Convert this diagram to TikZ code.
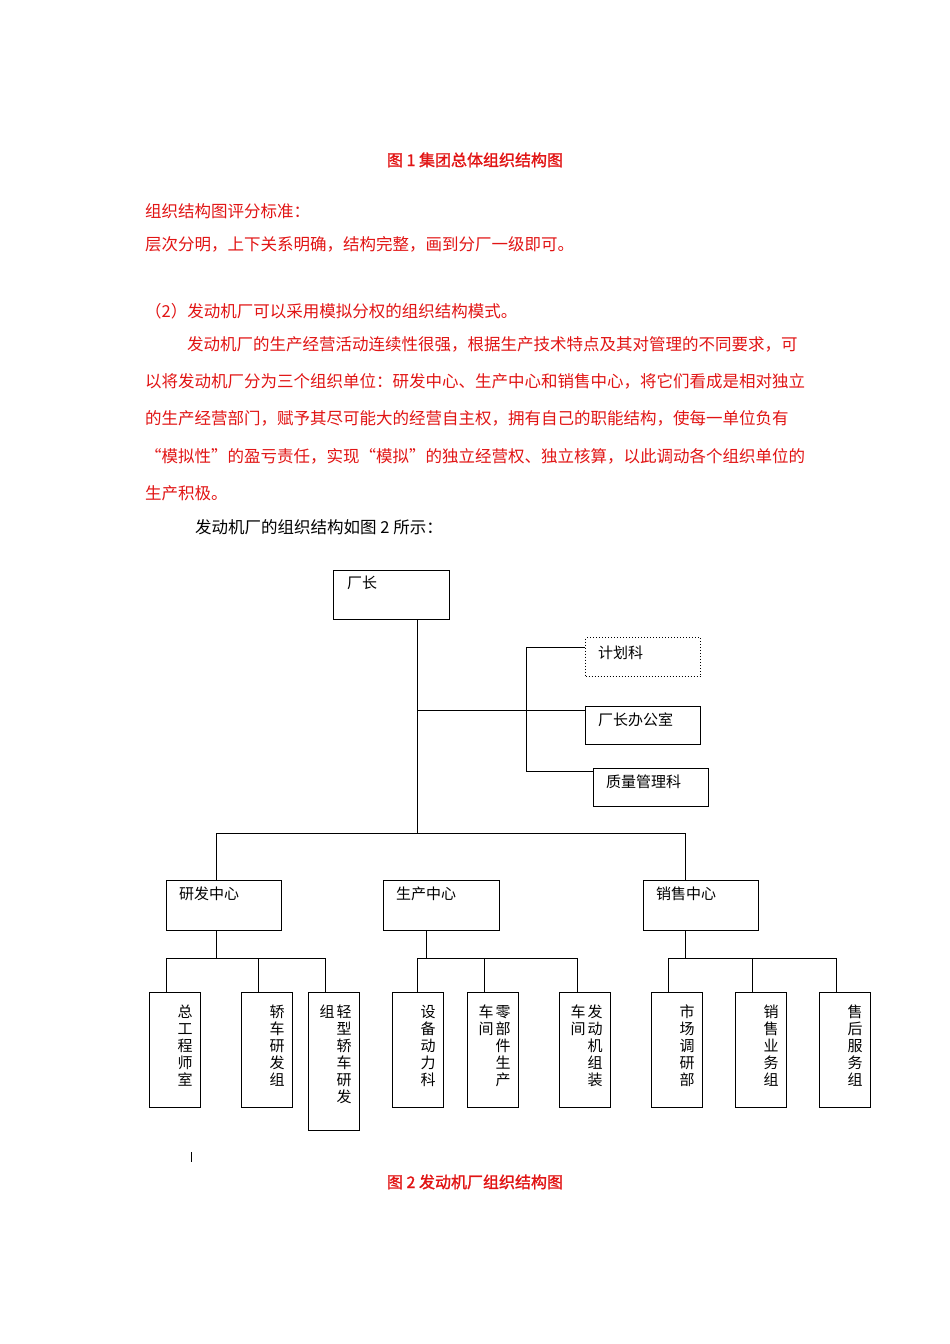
\documentclass[tikz,border=0pt]{standalone}
\usepackage{fontspec}
\setmainfont{Noto Sans CJK SC}
\newfontfamily\cjkb{Noto Sans CJK SC}[FakeBold=1.5]
\definecolor{docred}{RGB}{225,20,20}
\begin{document}
\begin{tikzpicture}[x=1pt,y=-1pt,
  txt/.style={anchor=base west,inner sep=0,font=\fontsize{16.5}{16.5}\selectfont},
  rtxt/.style={txt,text=docred},
  box/.style={draw,line width=1pt,inner sep=0,anchor=north west},
  lbl/.style={anchor=north west,inner sep=0,font=\fontsize{15}{15}\selectfont},
  vt/.style={anchor=north,inner sep=0,align=center,font=\fontsize{15}{17}\selectfont},
  ln/.style={line width=1pt}]
\useasboundingbox (0,0) rectangle (950,1344);
\node[anchor=base,inner sep=0,text=docred,font=\cjkb\fontsize{16}{16}\selectfont] (t1) at (475,166) {图 1 集团总体组织结构图};
\node[rtxt] (p1) at (145,217) {组织结构图评分标准：};
\node[rtxt] (p2) at (145,250) {层次分明，上下关系明确，结构完整，画到分厂一级即可。};
\node[rtxt] (p3) at (145,317) {（2）发动机厂可以采用模拟分权的组织结构模式。};
\node[rtxt] (p4) at (187,350) {发动机厂的生产经营活动连续性很强，根据生产技术特点及其对管理的不同要求，可};
\node[rtxt] (p5) at (145,387) {以将发动机厂分为三个组织单位：研发中心、生产中心和销售中心，将它们看成是相对独立};
\node[rtxt] (p6) at (145,424) {的生产经营部门，赋予其尽可能大的经营自主权，拥有自己的职能结构，使每一单位负有};
\node[rtxt] (p7) at (145,462) {“模拟性”的盈亏责任，实现“模拟”的独立经营权、独立核算，以此调动各个组织单位的};
\node[rtxt] (p8) at (145,499) {生产积极。};
\node[txt] (p9) at (195,533) {发动机厂的组织结构如图 2 所示：};

% top
\node[box,minimum width=116,minimum height=49] (cz) at (333,570) {};
\node[lbl] at (347,576) {厂长};
\node[box,dotted,minimum width=115,minimum height=39] (jh) at (585,637) {};
\node[lbl] at (598,646) {计划科};
\node[box,minimum width=115,minimum height=38] (bg) at (585,706) {};
\node[lbl] at (598,713) {厂长办公室};
\node[box,minimum width=115,minimum height=38] (zl) at (593,768) {};
\node[lbl] at (606,775) {质量管理科};
\coordinate (s1) at (526,647);
\coordinate (s2) at (526,771);
\coordinate (j1) at (417,710);
\coordinate (j2) at (417,833);
\draw[ln] (cz.south -| j1) -- (j2);
\draw[ln] (j1) -- (j1 -| bg.west);
\draw[ln] (s1) -- (s2);
\draw[ln] (s1) -- (s1 -| jh.west);
\draw[ln] (s2) -- (s2 -| zl.west);

% centers
\node[box,minimum width=115,minimum height=50] (yf) at (166,880) {};
\node[lbl] at (179,887) {研发中心};
\node[box,minimum width=116,minimum height=50] (sc) at (383,880) {};
\node[lbl] at (396,887) {生产中心};
\node[box,minimum width=115,minimum height=50] (xs) at (643,880) {};
\node[lbl] at (656,887) {销售中心};
\draw[ln] (216,880) -- (216,833) -- (685,833) -- (685,880);

% leaves
\foreach \n/\x/\h in {a/149/115,b/241/115,c/308/138,d/392/115,e/467/115,f/559/115,g/651/115,h/735/115,i/819/115}
  \node[box,minimum width=51,minimum height=\h] (\n) at (\x,992) {};
\draw[ln] (216,930) -- (216,958);
\draw[ln] (166,992) -- (166,958) -- (325,958) -- (325,992);
\draw[ln] (258,958) -- (258,992);
\draw[ln] (426,930) -- (426,958);
\draw[ln] (417,992) -- (417,958) -- (577,958) -- (577,992);
\draw[ln] (484,958) -- (484,992);
\draw[ln] (685,930) -- (685,958);
\draw[ln] (668,992) -- (668,958) -- (836,958) -- (836,992);
\draw[ln] (752,958) -- (752,992);

\node[vt] at (185,1005) {总\\工\\程\\师\\室};
\node[vt] at (277,1005) {轿\\车\\研\\发\\组};
\node[vt] at (344,1005) {轻\\型\\轿\\车\\研\\发};
\node[vt] at (327,1005) {组};
\node[vt] at (428,1005) {设\\备\\动\\力\\科};
\node[vt] at (503,1005) {零\\部\\件\\生\\产};
\node[vt] at (486,1005) {车\\间};
\node[vt] at (595,1005) {发\\动\\机\\组\\装};
\node[vt] at (578,1005) {车\\间};
\node[vt] at (687,1005) {市\\场\\调\\研\\部};
\node[vt] at (771,1005) {销\\售\\业\\务\\组};
\node[vt] at (855,1005) {售\\后\\服\\务\\组};

\draw (191,1152) -- (191,1162);
\node[anchor=base,inner sep=0,text=docred,font=\cjkb\fontsize{16}{16}\selectfont] (t2) at (475,1188) {图 2 发动机厂组织结构图};
\end{tikzpicture}
\end{document}
